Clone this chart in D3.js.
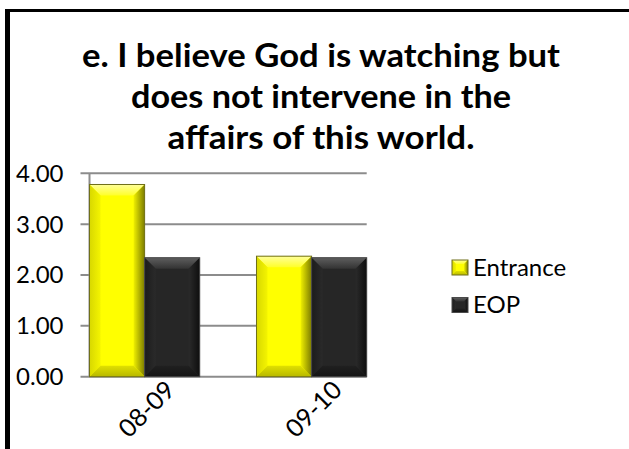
<!DOCTYPE html>
<html>
<head>
<meta charset="utf-8">
<script src="https://cdn.jsdelivr.net/npm/d3@7"></script>
<style>
  html, body { margin: 0; padding: 0; background: #fff; }
  svg { display: block; }
  text { font-family: Lato, "Open Sans", sans-serif; fill: #000; }
</style>
</head>
<body>
<svg id="chart" width="629" height="449"></svg>
<script>
// Chart data
const categories = ["08-09", "09-10"];
const seriesNames = ["Entrance", "EOP"];
const entrance = [3.78, 2.37];
const eop = [2.34, 2.34];
const yTicks = [0, 1, 2, 3, 4];
const titleLines = [
  "e. I believe God is watching but",
  "does not intervene in the",
  "affairs of this world."
];

const series = [
  { name: seriesNames[0], values: entrance, key: "yel" },
  { name: seriesNames[1], values: eop, key: "blk" }
];

const W = 629, H = 449;
const svg = d3.select("#chart");
const defs = svg.append("defs");

// Bevel palettes: face, top, left, right, bottom, outline
const palette = {
  yel: { face: "#ffff00", top: ["#ffff9a", "#ffff2a"], left: ["#d8d800", "#f4f400"],
         right: ["#f0f000", "#7c7c00"], bottom: ["#e0e000", "#b8b800"], stroke: "#6f6f1a" },
  blk: { face: "#262626", top: ["#5e5e5e", "#333333"], left: ["#1c1c1c", "#2a2a2a"],
         right: ["#2a2a2a", "#0e0e0e"], bottom: ["#202020", "#141414"], stroke: "#4a4a4a" }
};

function grad(id, c, x1, y1, x2, y2) {
  const g = defs.append("linearGradient").attr("id", id)
    .attr("x1", x1).attr("y1", y1).attr("x2", x2).attr("y2", y2);
  g.append("stop").attr("offset", "0%").attr("stop-color", c[0]);
  g.append("stop").attr("offset", "100%").attr("stop-color", c[1]);
}
Object.entries(palette).forEach(([k, p]) => {
  grad(k + "-top", p.top, 0, 0, 0, 1);
  grad(k + "-left", p.left, 0, 0, 1, 0);
  grad(k + "-right", p.right, 0, 0, 1, 0);
  grad(k + "-bottom", p.bottom, 0, 0, 0, 1);
});

// Frame lines
svg.append("rect").attr("x", 5).attr("y", 9).attr("width", W - 5).attr("height", 3).attr("fill", "#000");
svg.append("rect").attr("x", 5).attr("y", 9).attr("width", 5).attr("height", H - 9).attr("fill", "#000");

// Title
const titleY = [67, 108, 149];
const titleW = [478, 380, 307];
svg.append("g").selectAll("text").data(titleLines).join("text")
  .attr("x", 321)
  .attr("y", (d, i) => titleY[i])
  .attr("text-anchor", "middle")
  .attr("font-size", 33)
  .attr("font-weight", 700)
  .attr("textLength", (d, i) => titleW[i])
  .attr("lengthAdjust", "spacingAndGlyphs")
  .text(d => d);

// Scales
const y = d3.scaleLinear().domain([0, 4]).range([376.7, 173.3]);
const x0 = d3.scaleBand().domain(categories).range([89.5, 366.7]).paddingInner(0.34).paddingOuter(0);
const x1 = d3.scaleBand().domain(seriesNames).range([0, x0.bandwidth()]).padding(0);

const plotL = 89.5, plotR = 366.7;

// Gridlines with outside tick marks
svg.append("g").selectAll("line").data(yTicks).join("line")
  .attr("x1", plotL - 9).attr("x2", plotR)
  .attr("y1", d => y(d)).attr("y2", d => y(d))
  .attr("stroke", "#8c8c8c").attr("stroke-width", 2);

// Y axis line
svg.append("line").attr("x1", plotL).attr("x2", plotL)
  .attr("y1", y(4)).attr("y2", y(0))
  .attr("stroke", "#8c8c8c").attr("stroke-width", 2);

// Y tick labels
svg.append("g").selectAll("text").data(yTicks).join("text")
  .attr("x", 63.5)
  .attr("y", d => y(d))
  .attr("dy", "0.35em")
  .attr("text-anchor", "end")
  .attr("font-size", 24)
  .text(d => d3.format(".2f")(d));

// Bevelled bars
function bevelBar(g, bx, by, bw, bh, key) {
  const p = palette[key];
  const b = Math.min(11, bw / 4, bh / 2);
  const xa = bx, xb = bx + bw, ya = by, yb = by + bh;
  g.append("rect").attr("x", xa).attr("y", ya).attr("width", bw).attr("height", bh).attr("fill", p.face);
  const poly = (pts, fill) => g.append("polygon")
    .attr("points", pts.map(q => q.join(",")).join(" ")).attr("fill", fill);
  poly([[xa, ya], [xb, ya], [xb - b, ya + b], [xa + b, ya + b]], `url(#${key}-top)`);
  poly([[xa, ya], [xa + b, ya + b], [xa + b, yb - b], [xa, yb]], `url(#${key}-left)`);
  poly([[xb, ya], [xb, yb], [xb - b, yb - b], [xb - b, ya + b]], `url(#${key}-right)`);
  poly([[xa, yb], [xa + b, yb - b], [xb - b, yb - b], [xb, yb]], `url(#${key}-bottom)`);
  g.append("rect").attr("x", xa).attr("y", ya).attr("width", bw).attr("height", bh)
    .attr("fill", "none").attr("stroke", p.stroke).attr("stroke-width", 1);
}

const barsG = svg.append("g");
categories.forEach((c, ci) => {
  series.forEach(s => {
    const v = s.values[ci];
    bevelBar(barsG, x0(c) + x1(s.name), y(v), x1.bandwidth(), y(0) - y(v), s.key);
  });
});

// Category labels, rotated
svg.append("g").selectAll("text").data(categories).join("text")
  .attr("transform", c => `translate(${x0(c) + x0.bandwidth() / 2 + 2},${409}) rotate(-45)`)
  .attr("text-anchor", "middle")
  .attr("dy", "0.35em")
  .attr("font-size", 25)
  .text(c => c);

// Legend
const legend = svg.append("g").selectAll("g").data(series).join("g")
  .attr("transform", (d, i) => `translate(452,${260 + i * 37.5})`);
legend.each(function (d) {
  bevelBar(d3.select(this), 0, 0, 16, 15, d.key);
});
legend.append("text")
  .attr("x", 21).attr("y", 15.5)
  .attr("font-size", 24)
  .text(d => d.name);
</script>
</body>
</html>
